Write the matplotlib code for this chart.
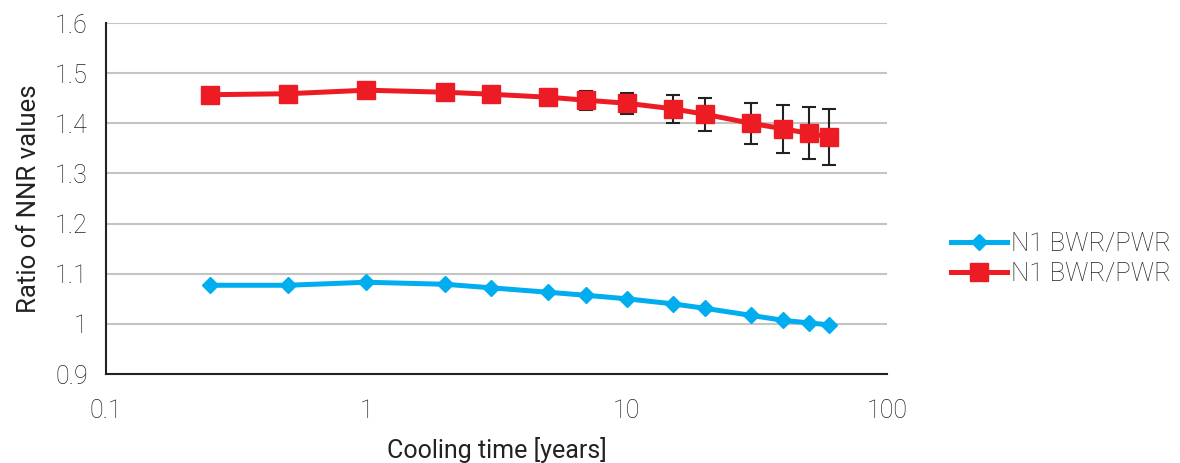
import matplotlib.pyplot as plt
from matplotlib.ticker import FixedLocator, FixedFormatter, NullLocator

plt.rcParams['font.family'] = ['Roboto', 'DejaVu Sans']
plt.rcParams['font.weight'] = 'light'

# --- data ---
cooling_years = [0.25, 0.5, 1, 2, 3, 5, 7, 10, 15, 20, 30, 40, 50, 60]
ratio_blue = [1.077, 1.077, 1.083, 1.079, 1.072, 1.063, 1.057, 1.050,
              1.040, 1.031, 1.017, 1.007, 1.002, 0.998]
ratio_red = [1.457, 1.459, 1.466, 1.462, 1.458, 1.452, 1.446, 1.440,
             1.429, 1.418, 1.400, 1.389, 1.380, 1.373]
red_err = [0, 0, 0, 0, 0, 0, 0.019, 0.021, 0.028, 0.033, 0.041, 0.048, 0.052, 0.056]
x_ticks = [0.1, 1, 10, 100]
x_tick_labels = ['0.1', '1', '10', '100']
y_ticks = [0.9, 1.0, 1.1, 1.2, 1.3, 1.4, 1.5, 1.6]
y_tick_labels = ['0.9', '1', '1.1', '1.2', '1.3', '1.4', '1.5', '1.6']
series_label = 'N1 BWR/PWR'

fig = plt.figure(figsize=(11.8, 4.63), dpi=100)
ax = fig.add_axes([0.0898, 0.1922, 0.6619, 0.7581])

blue = '#00aeef'
red = '#ed1c24'
txt = '#222222'

ln_blue, = ax.plot(cooling_years, ratio_blue, color=blue, lw=3.6, marker='D',
                   markersize=8.5, zorder=3, label=series_label)
# error bars only where non-zero
err_x = [x for x, e in zip(cooling_years, red_err) if e > 0]
err_y = [y for y, e in zip(ratio_red, red_err) if e > 0]
err_e = [e for e in red_err if e > 0]
ax.errorbar(err_x, err_y, yerr=err_e, fmt='none', ecolor='#222222',
            elinewidth=1.5, capsize=5, capthick=1.5, zorder=2)
ln_red, = ax.plot(cooling_years, ratio_red, color=red, lw=3.6, marker='s',
                  markersize=13, zorder=4, label=series_label)

ax.set_xscale('log')
ax.set_xlim(0.1, 100)
ax.set_ylim(0.9, 1.6)
ax.xaxis.set_major_locator(FixedLocator(x_ticks))
ax.xaxis.set_major_formatter(FixedFormatter(x_tick_labels))
ax.xaxis.set_minor_locator(NullLocator())
ax.set_yticks(y_ticks)
ax.set_yticklabels(y_tick_labels)

ax.grid(axis='y', color='#c4c4c4', lw=1.5)
ax.set_axisbelow(True)
ax.tick_params(length=0, labelsize=18, colors=txt, pad=13)
ax.tick_params(axis='x', pad=18)
for s in ['top', 'right']:
    ax.spines[s].set_visible(False)
for s in ['left', 'bottom']:
    ax.spines[s].set_color('#222222')
    ax.spines[s].set_linewidth(1.5)

ax.set_xlabel('Cooling time [years]', fontsize=18, color=txt, labelpad=10)
ax.set_ylabel('Ratio of NNR values', fontsize=18.5, color=txt, labelpad=10)

fig.legend(handles=[ln_blue, ln_red], loc='center left',
           bbox_to_anchor=(0.786, 0.44), frameon=False, fontsize=18.5,
           handlelength=2.2, handletextpad=0.15, labelspacing=0.25,
           labelcolor=txt)

fig.savefig('out.png', dpi=100)
